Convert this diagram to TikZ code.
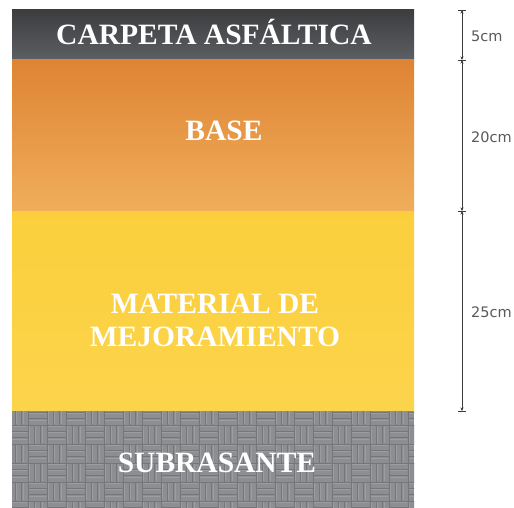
\documentclass[tikz,border=0pt]{standalone}
\usepackage{fontspec}
\setmainfont{Liberation Serif}
\newfontfamily\dimfont{DejaVu Sans}
\usetikzlibrary{arrows.meta}
\definecolor{darktop}{HTML}{3C3D3F}
\definecolor{darkbot}{HTML}{5C5F63}
\definecolor{orangetop}{HTML}{DE8434}
\definecolor{orangebot}{HTML}{F0AE5A}
\definecolor{yellowtop}{HTML}{FBCF3C}
\definecolor{yellowbot}{HTML}{FCD44C}
\definecolor{soilgray}{HTML}{8C8E91}
\definecolor{groove}{HTML}{74767A}
\definecolor{shine}{HTML}{9B9DA0}
\definecolor{dimgray}{HTML}{3A3A3A}
\definecolor{dimtext}{HTML}{5A5A5A}
\tikzset{
  layertext/.style={text=white, font=\fontsize{29.5}{32}\selectfont\bfseries, anchor=base, inner sep=0pt},
  dimline/.style={draw=dimgray, line width=0.7pt},
  dimlabel/.style={text=dimtext, font=\dimfont\fontsize{14.5}{16}\selectfont, anchor=west, inner sep=0pt},
  groovel/.style={draw=groove, line width=0.7pt},
  shinel/.style={draw=shine, line width=0.4pt}
}
\begin{document}
\begin{tikzpicture}[x=1pt,y=-1pt]
\useasboundingbox (0,0) rectangle (514,508);
\fill[white] (0,0) rectangle (514,508);
% layers
\shade[top color=darktop, bottom color=darkbot] (12,10) rectangle (414,60);
\shade[top color=orangetop, bottom color=orangebot] (12,60) rectangle (414,211);
\shade[top color=yellowtop, bottom color=yellowbot] (12,211) rectangle (414,411);
\fill[soilgray] (12,411) rectangle (414,508);
% basket weave pattern
\begin{scope}
\clip (12,411) rectangle (414,508);
\foreach \i in {0,...,21}{
  \foreach \j in {0,...,5}{
    \pgfmathsetmacro{\bx}{9+19*\i}
    \pgfmathsetmacro{\by}{406+19*\j}
    \pgfmathtruncatemacro{\parity}{mod(\i+\j,2)}
    \ifnum\parity=0
      \foreach \k in {0,6.33,12.67}{
        \draw[shinel] (\bx+\k+1.2,\by+1) -- (\bx+\k+1.2,\by+18);
        \draw[groovel] (\bx+\k,\by) -- (\bx+\k,\by+19);
      }
      \draw[groovel] (\bx,\by) -- (\bx+19,\by);
    \else
      \foreach \k in {0,6.33,12.67}{
        \draw[shinel] (\bx+1,\by+\k+1.2) -- (\bx+18,\by+\k+1.2);
        \draw[groovel] (\bx,\by+\k) -- (\bx+19,\by+\k);
      }
      \draw[groovel] (\bx,\by) -- (\bx,\by+19);
    \fi
  }
}
\end{scope}
% texts
\node[layertext] (carpeta) at (214,45) {CARPETA ASFÁLTICA};
\node[layertext] (base) at (224,141) {BASE};
\node[layertext] (mat1) at (215,313) {MATERIAL DE};
\node[layertext] (mat2) at (215,346) {MEJORAMIENTO};
\node[layertext] (subr) at (217,472) {SUBRASANTE};
% dimension line
\coordinate (d0) at (462,10);
\coordinate (d1) at (462,60);
\coordinate (d2) at (462,211);
\coordinate (d3) at (462,411);
\draw[dimline, {Stealth[length=3.5pt,width=3pt]}-{Stealth[length=3.5pt,width=3pt]}] (d0) -- (d1);
\draw[dimline, {Stealth[length=3.5pt,width=3pt]}-{Stealth[length=3.5pt,width=3pt]}] (d1) -- (d2);
\draw[dimline, {Stealth[length=3.5pt,width=3pt]}-{Stealth[length=3.5pt,width=3pt]}] (d2) -- (d3);
\foreach \c in {d0,d1,d2,d3}{
  \draw[dimline] ([xshift=-4pt]\c) -- ([xshift=4pt]\c);
}
\node[dimlabel] (l5) at (471,36) {5cm};
\node[dimlabel] (l20) at (471,137) {20cm};
\node[dimlabel] (l25) at (471,312) {25cm};
\end{tikzpicture}
\end{document}
